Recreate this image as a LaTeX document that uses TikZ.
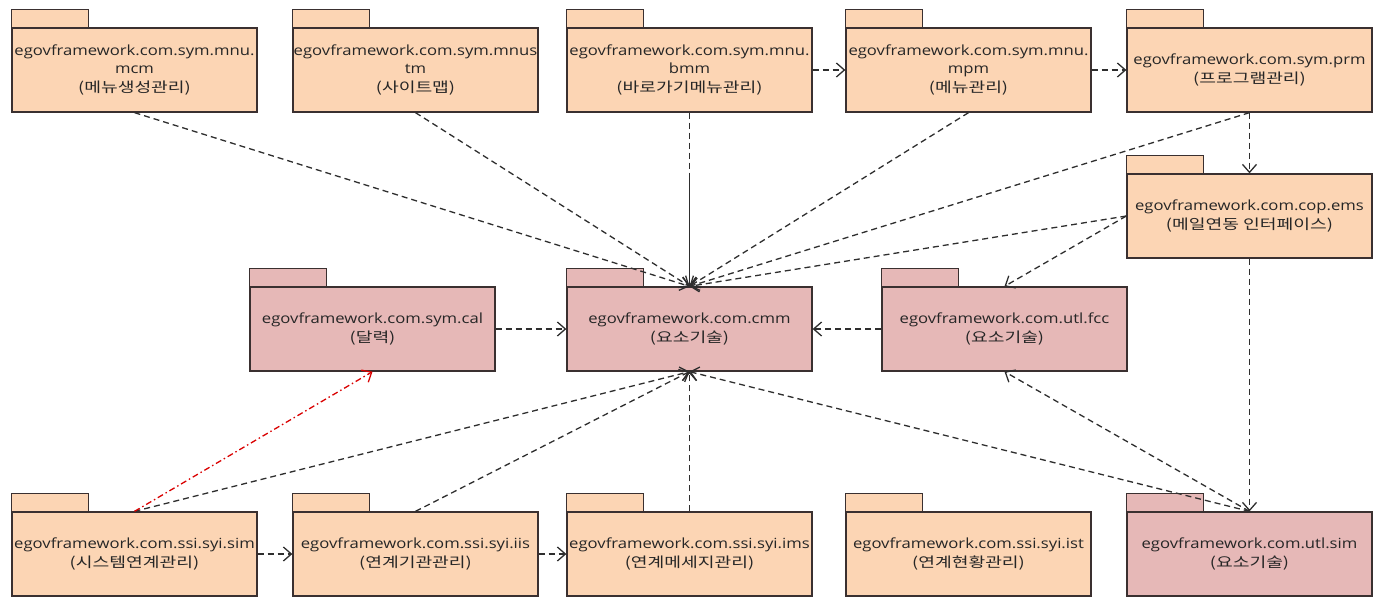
\documentclass[tikz,border=0pt]{standalone}
\usepackage{fontspec}
\setmainfont{Open Sans}[FakeStretch=1.19]
\newfontfamily\kr{Noto Sans CJK KR}[FakeStretch=1.3]
\usetikzlibrary{arrows.meta}
\definecolor{peach}{HTML}{FCD5B4}
\definecolor{rose}{HTML}{E6B8B7}
\definecolor{edgec}{HTML}{3A3030}
\definecolor{depc}{HTML}{2E2E2E}
\begin{document}
\begin{tikzpicture}[x=1pt, y=-1pt,
    pkg/.style={draw=edgec, line width=1.3pt, minimum width=245pt, minimum height=84pt,
        inner sep=0pt, align=center, font=\fontsize{14}{18.5}\selectfont, text=black!85},
    tab/.style={draw=edgec, line width=1.3pt},
    dep/.style={draw=depc, line width=1.3pt, dash pattern=on 6pt off 4pt,
        -{Straight Barb[length=8pt,width=14pt,line width=1.3pt]}},
    trace/.style={dep, draw=red!85!black, dash pattern=on 6pt off 3pt on 1.5pt off 3pt}]
        \useasboundingbox (0,0) rectangle (1385,597);

        % Top row
        \node[pkg, fill=peach] (mcm) at (134.5,70) {egovframework.com.sym.mnu.\\mcm\\{\kr(메뉴생성관리)}};
        \node[pkg, fill=peach] (stm) at (415.5,70) {egovframework.com.sym.mnus\\tm\\{\kr(사이트맵)}};
        \node[pkg, fill=peach] (bmm) at (689.5,70) {egovframework.com.sym.mnu.\\bmm\\{\kr(바로가기메뉴관리)}};
        \node[pkg, fill=peach] (mpm) at (968.5,70) {egovframework.com.sym.mnu.\\mpm\\{\kr(메뉴관리)}};
        \node[pkg, fill=peach] (prm) at (1249.5,70) {egovframework.com.sym.prm\\{\kr(프로그램관리)}};

        % Mail interface
        \node[pkg, fill=peach] (ems) at (1249.5,216) {egovframework.com.cop.ems\\{\kr(메일연동 인터페이스)}};

        % Middle row
        \node[pkg, fill=rose] (cal) at (372.5,329) {egovframework.com.sym.cal\\{\kr(달력)}};
        \node[pkg, fill=rose] (cmm) at (689.5,329) {egovframework.com.cmm\\{\kr(요소기술)}};
        \node[pkg, fill=rose] (fcc) at (1004.5,329) {egovframework.com.utl.fcc\\{\kr(요소기술)}};

        % Bottom row
        \node[pkg, fill=peach] (sim) at (134.5,554) {egovframework.com.ssi.syi.sim\\{\kr(시스템연계관리)}};
        \node[pkg, fill=peach] (iis) at (415.5,554) {egovframework.com.ssi.syi.iis\\{\kr(연계기관관리)}};
        \node[pkg, fill=peach] (ims) at (689.5,554) {egovframework.com.ssi.syi.ims\\{\kr(연계메세지관리)}};
        \node[pkg, fill=peach] (ist) at (968.5,554) {egovframework.com.ssi.syi.ist\\{\kr(연계현황관리)}};
        \node[pkg, fill=rose] (usim) at (1249.5,554) {egovframework.com.utl.sim\\{\kr(요소기술)}};

        % Tabs
        \foreach \p in {mcm,stm,bmm,mpm,prm,ems,sim,iis,ims,ist}
            \draw[tab, fill=peach] (\p.north west) rectangle ++(77,-18);
        \foreach \p in {cal,cmm,fcc,usim}
            \draw[tab, fill=rose] (\p.north west) rectangle ++(77,-18);

        % Into cmm from above
        \draw[dep] (mcm.south) -- (cmm.north);
        \draw[dep] (stm.south) -- (cmm.north);
        \draw[dep, dash pattern=on 6pt off 4pt on 6pt off 4pt on 6pt off 4pt on 6pt off 4pt on 6pt off 4pt on 6pt off 4pt on 130pt off 1pt] (bmm.south) -- (cmm.north);
        \draw[dep] (mpm.south) -- (cmm.north);
        \draw[dep] (prm.south) -- (cmm.north);
        \draw[dep] (ems.west) -- (cmm.north);

        % Along the top row
        \draw[dep] (bmm.east) -- (mpm.west);
        \draw[dep] (mpm.east) -- (prm.west);
        \draw[dep] (prm.south) -- (ems.north);

        % Middle row
        \draw[dep] (cal.east) -- (cmm.west);
        \draw[dep] (fcc.west) -- (cmm.east);
        \draw[dep] (ems.west) -- (fcc.north);

        % utl.sim
        \draw[dep] (ems.south) -- (usim.north);
        \draw[dep] (usim.north) -- (fcc.south);
        \draw[dep] (usim.north) -- (cmm.south);

        % Bottom row
        \draw[dep] (sim.north) -- (cmm.south);
        \draw[trace] (sim.north) -- (cal.south);
        \draw[dep] (sim.east) -- (iis.west);
        \draw[dep] (iis.north) -- (cmm.south);
        \draw[dep] (iis.east) -- (ims.west);
        \draw[dep] (ims.north) -- (cmm.south);
    \end{tikzpicture}
\end{document}
